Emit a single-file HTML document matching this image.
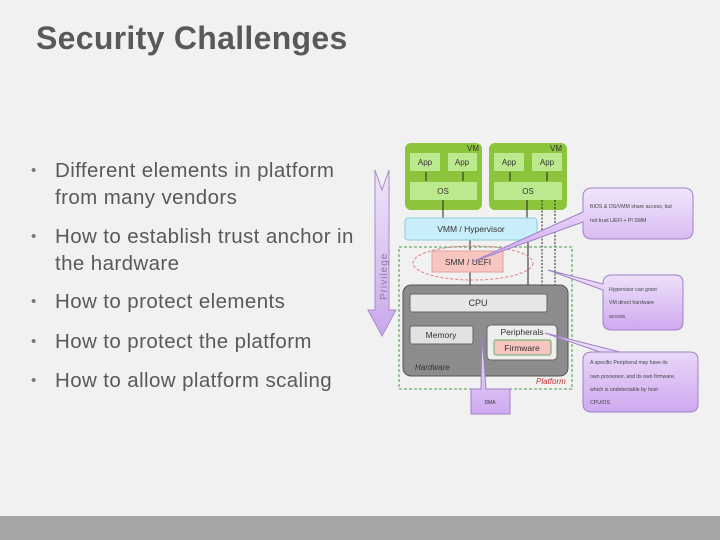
<!DOCTYPE html>
<html><head><meta charset="utf-8"><style>
body{margin:0;width:720px;height:540px;background:#f1f1f1;overflow:hidden;position:relative;font-family:"Liberation Sans",sans-serif}
.t{position:absolute;left:36px;top:20px;font-size:32px;font-weight:bold;color:#595959;letter-spacing:0.3px}
.b{position:absolute;left:55px;font-size:20.5px;color:#595959;line-height:27px;letter-spacing:0.4px;white-space:nowrap}
.b:before{content:"•";position:absolute;left:-24px;font-size:15px;color:#777}
.bar{position:absolute;left:0;top:516px;width:720px;height:24px;background:#a6a6a6}
svg{position:absolute;left:0;top:0}
</style></head><body>
<div class="t">Security Challenges</div>
<div class="b" style="top:157px">Different elements in platform<br>from many vendors</div>
<div class="b" style="top:223px">How to establish trust anchor in<br>the hardware</div>
<div class="b" style="top:288px">How to protect elements</div>
<div class="b" style="top:328px">How to protect the platform</div>
<div class="b" style="top:367px">How to allow platform scaling</div>
<div class="bar"></div>
<svg width="720" height="540" font-family="Liberation Sans,sans-serif">
<defs><linearGradient id="pv" x1="0" y1="0" x2="0" y2="1"><stop offset="0" stop-color="#efe6f8"/><stop offset="1" stop-color="#c9a8ec"/></linearGradient>
<linearGradient id="co" x1="0" y1="0" x2="0" y2="1"><stop offset="0" stop-color="#f1e6fb"/><stop offset="1" stop-color="#cfa9f0"/></linearGradient></defs>
<polygon points="375,170 382,190 389,170 389,310 396,310 382,336 368,310 375,310" fill="url(#pv)" stroke="#a68bc8"/>
<text transform="translate(387,300) rotate(-90)" font-size="10" fill="#8a7aa0" letter-spacing="1">Privilege</text>
<rect x="405" y="143" width="77" height="67" rx="6" fill="#8cc43c"/>
<rect x="489" y="143" width="78" height="67" rx="6" fill="#8cc43c"/>
<text x="467" y="151" font-size="8" fill="#333">VM</text><text x="550" y="151" font-size="8" fill="#333">VM</text>
<g fill="#bde98e"><rect x="410" y="153" width="30" height="18"/><rect x="448" y="153" width="29" height="18"/><rect x="494" y="153" width="30" height="18"/><rect x="532" y="153" width="30" height="18"/>
<rect x="410" y="182" width="67" height="18"/><rect x="494" y="182" width="68" height="18"/></g>
<g font-size="8" fill="#333" text-anchor="middle"><text x="425" y="165">App</text><text x="462" y="165">App</text><text x="509" y="165">App</text><text x="547" y="165">App</text><text x="443" y="194">OS</text><text x="528" y="194">OS</text></g>
<g stroke="#222" stroke-width="1"><line x1="426" y1="172" x2="426" y2="181"/><line x1="463" y1="172" x2="463" y2="181"/><line x1="510" y1="172" x2="510" y2="181"/><line x1="547" y1="172" x2="547" y2="181"/>
<line x1="443" y1="200" x2="443" y2="218"/><line x1="527" y1="200" x2="527" y2="218"/><line x1="470" y1="240" x2="470" y2="250"/><line x1="470" y1="272" x2="470" y2="294"/><line x1="528" y1="240" x2="528" y2="294"/>
<line x1="437" y1="312" x2="437" y2="326"/><line x1="528" y1="312" x2="528" y2="325"/><line x1="474" y1="335" x2="487" y2="335"/></g>
<g stroke="#222" stroke-dasharray="2,1.5"><line x1="542" y1="200" x2="542" y2="294"/><line x1="555" y1="200" x2="555" y2="325"/></g>
<rect x="405" y="218" width="132" height="22" rx="3" fill="#c8eefa" stroke="#8ccbe0"/>
<text x="471" y="232" font-size="8.5" fill="#333" text-anchor="middle">VMM / Hypervisor</text>
<rect x="399" y="247" width="173" height="142" fill="none" stroke="#4a9a4a" stroke-dasharray="3,2"/>
<ellipse cx="473" cy="263" rx="60" ry="17" fill="none" stroke="#e08080" stroke-dasharray="3,2"/>
<rect x="432" y="251" width="71" height="21" fill="#f7c6c0" stroke="#e0a0a0"/>
<text x="468" y="265" font-size="8.5" fill="#333" text-anchor="middle">SMM / UEFI</text>
<rect x="403" y="285" width="165" height="91" rx="8" fill="#8c8c8c" stroke="#555"/>
<rect x="410" y="294" width="137" height="18" rx="2" fill="#e6e6e6" stroke="#666"/>
<text x="478" y="306" font-size="9" fill="#333" text-anchor="middle">CPU</text>
<rect x="410" y="326" width="63" height="18" rx="2" fill="#e2e2e2" stroke="#666"/>
<text x="441" y="338" font-size="8.5" fill="#333" text-anchor="middle">Memory</text>
<rect x="487" y="325" width="70" height="35" rx="4" fill="#eeeeee" stroke="#666"/>
<text x="522" y="335" font-size="8.5" fill="#333" text-anchor="middle">Peripherals</text>
<rect x="494" y="340" width="57" height="15" rx="2" fill="#f7c6c0" stroke="#6a6"/>
<text x="522" y="351" font-size="8.5" fill="#333" text-anchor="middle">Firmware</text>
<text x="415" y="370" font-size="8" font-style="italic" fill="#333">Hardware</text>
<text x="536" y="384" font-size="8" font-style="italic" fill="#c03030">Platform</text>
<polygon points="471,389 481,389 482,337 486,389 510,389 510,414 471,414" fill="url(#co)" stroke="#a080c8"/>
<text x="490" y="404" font-size="5" fill="#333" text-anchor="middle">DMA</text>
<path d="M583,197 Q583,188 592,188 L684,188 Q693,188 693,197 L693,230 Q693,239 684,239 L592,239 Q583,239 583,230 L583,222 L472,262 L583,212 Z" fill="url(#co)" stroke="#a080c8"/>
<text x="590" y="208" font-size="5.2" fill="#444">BIOS &amp; OS/VMM share access, but</text>
<text x="590" y="222" font-size="5.2" fill="#444">not trust UEFI + PI SMM</text>
<path d="M612,275 L675,275 Q683,275 683,283 L683,322 Q683,330 675,330 L612,330 Q603,330 603,322 L603,290 L548,270 L603,284 Q603,275 612,275 Z" fill="url(#co)" stroke="#a080c8"/>
<text x="609" y="291" font-size="5.2" fill="#444">Hypervisor can grant</text>
<text x="609" y="304" font-size="5.2" fill="#444">VM direct hardware</text>
<text x="609" y="318" font-size="5.2" fill="#444">access</text>
<path d="M592,352 L690,352 Q698,352 698,360 L698,404 Q698,412 690,412 L592,412 Q583,412 583,404 L583,360 Q583,352 592,352 Z M600,352 L545,333 L620,352" fill="url(#co)" stroke="#a080c8"/>
<text x="590" y="364" font-size="5.2" fill="#444">A specific Peripheral may have its</text>
<text x="590" y="378" font-size="5.2" fill="#444">own processor, and its own firmware,</text>
<text x="590" y="391" font-size="5.2" fill="#444">which is undetectable by host</text>
<text x="590" y="404" font-size="5.2" fill="#444">CPU/OS.</text>
</svg>
</body></html>
